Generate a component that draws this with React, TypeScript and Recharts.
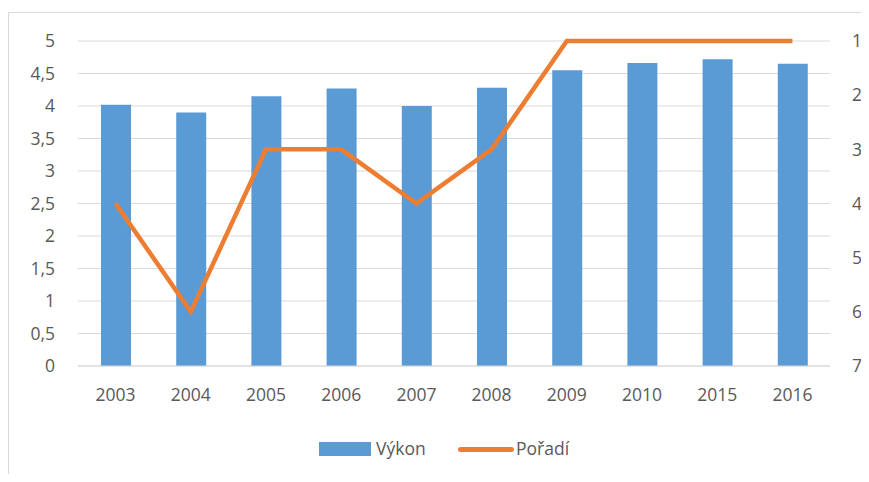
import React from 'react';
import { ComposedChart, Bar, Line, XAxis, YAxis, CartesianGrid, Legend } from 'recharts';

const years = ['2003', '2004', '2005', '2006', '2007', '2008', '2009', '2010', '2015', '2016'];
const vykon = [4.02, 3.9, 4.15, 4.27, 4.0, 4.28, 4.55, 4.66, 4.72, 4.65];
const poradi = [4, 6, 3, 3, 4, 3, 1, 1, 1, 1];
const leftTicks = [0, 0.5, 1, 1.5, 2, 2.5, 3, 3.5, 4, 4.5, 5];
const rightTicks = [1, 2, 3, 4, 5, 6, 7];

const data = years.map((y, i) => ({ year: y, vykon: vykon[i], poradi: poradi[i] }));

const FONT = '"Open Sans", "Noto Sans", sans-serif';
const FS = 17.5;
const TXT = '#595959';
const BLUE = '#5B9BD5';
const ORANGE = '#ED7D31';
const GRID = '#D9D9D9';

const LegendContent = () => (
  <div style={{ position: 'relative', width: 861, height: 30, fontFamily: FONT, fontSize: FS, color: TXT }}>
    <div style={{ position: 'absolute', left: 311, top: 8, width: 52, height: 14, background: BLUE }} />
    <div style={{ position: 'absolute', left: 368, top: 2, lineHeight: '24px' }}>Výkon</div>
    <div style={{ position: 'absolute', left: 450, top: 12.5, width: 56, height: 5, borderRadius: 3, background: ORANGE }} />
    <div style={{ position: 'absolute', left: 508, top: 2, lineHeight: '24px' }}>Pořadí</div>
  </div>
);

export default function App() {
  const W = 861;
  const H = 466;
  return (
    <div style={{ position: 'relative', width: W, height: H, background: '#fff' }}>
      <div style={{ position: 'absolute', left: 0, top: 4, width: W, height: H + 4, borderTop: `1px solid ${GRID}`, borderLeft: `1px solid ${GRID}`, boxSizing: 'border-box' }} />
      <ComposedChart width={W} height={H} data={data} margin={{ top: 33, right: 0, left: 0, bottom: 0 }}>
        <CartesianGrid vertical={false} stroke={GRID} yAxisId="left" />
        <XAxis
          dataKey="year"
          height={108}
          tickLine={false}
          tickSize={0}
          tickMargin={23}
          axisLine={{ stroke: GRID }}
          tick={{ fill: TXT, fontSize: FS, fontFamily: FONT }}
        />
        <YAxis
          yAxisId="left"
          orientation="left"
          width={70}
          domain={[0, 5]}
          ticks={leftTicks}
          interval={0}
          axisLine={false}
          tickLine={false}
          tickSize={0}
          tickMargin={23}
          tickFormatter={(v: number) => String(v).replace('.', ',')}
          tick={{ fill: TXT, fontSize: FS, fontFamily: FONT }}
        />
        <YAxis
          yAxisId="right"
          orientation="right"
          width={39}
          domain={[1, 7]}
          ticks={rightTicks}
          interval={0}
          reversed
          axisLine={false}
          tickLine={false}
          tickSize={0}
          tickMargin={22}
          tick={{ fill: TXT, fontSize: FS, fontFamily: FONT, textAnchor: 'start' }}
        />
        <Bar yAxisId="left" dataKey="vykon" name="Výkon" fill={BLUE} barSize={30} isAnimationActive={false} />
        <Line
          yAxisId="right"
          type="linear"
          dataKey="poradi"
          name="Pořadí"
          stroke={ORANGE}
          strokeWidth={4.5}
          dot={false}
          activeDot={false}
          isAnimationActive={false}
        />
        <Legend
          verticalAlign="middle"
          align="center"
          layout="horizontal"
          wrapperStyle={{ top: 426, left: 0, width: W }}
          content={<LegendContent />}
        />
      </ComposedChart>
    </div>
  );
}
